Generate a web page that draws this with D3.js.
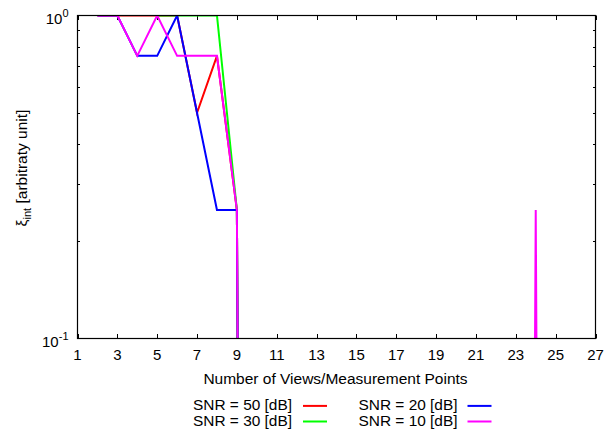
<!DOCTYPE html>
<html>
<head>
<meta charset="utf-8">
<script src="https://cdn.jsdelivr.net/npm/d3@7"></script>
<style>
  html, body { margin: 0; padding: 0; background: #fff; }
  svg { display: block; }
  text { font-family: "Liberation Sans", Arial, Helvetica, sans-serif; fill: #000; }
</style>
</head>
<body>
<svg id="chart" width="605" height="437"></svg>
<script>
// Number of views / measurement points (x positions of each sample)
const views = [2, 3, 4, 5, 6, 7, 8, 9, 10, 11, 12, 13, 14, 15, 16, 17, 18, 19, 20, 21, 22, 23, 24, 25, 26, 27];

// Normalised xi_int per SNR level (null = no sample, 0 = vanished)
const snr50 = [1, 1, 1, 1, 1, 0.5, 0.75, 0.25, 0, 0, 0, 0, 0, 0, 0, 0, 0, 0, 0, 0, 0, 0, 0, 0, 0, 0];
const snr30 = [null, null, null, 1, 1, 1, 1, 0.25, 0, 0, 0, 0, 0, 0, 0, 0, 0, 0, 0, 0, 0, 0, 0, 0, 0, 0];
const snr20 = [1, 1, 0.75, 0.75, 1, 0.5, 0.25, 0.25, 0, 0, 0, 0, 0, 0, 0, 0, 0, 0, 0, 0, 0, 0, 0, 0, 0, 0];
const snr10 = [1, 1, 0.75, 1, 0.75, 0.75, 0.75, 0.25, 0, 0, 0, 0, 0, 0, 0, 0, 0, 0, 0, 0, 0, 0, 0.25, 0, 0, 0];

const seriesNames = ["SNR = 50 [dB]", "SNR = 30 [dB]", "SNR = 20 [dB]", "SNR = 10 [dB]"];
const seriesColors = ["#ff0000", "#00ff00", "#0000ff", "#ff00ff"];
const seriesValues = [snr50, snr30, snr20, snr10];

const xTickValues = [1, 3, 5, 7, 9, 11, 13, 15, 17, 19, 21, 23, 25, 27];
const yMinorTicks = [0.2, 0.3, 0.4, 0.5, 0.6, 0.7, 0.8, 0.9];
const yMajorTicks = [{ v: 0.1, exp: "-1" }, { v: 1, exp: "0" }];

const xLabel = "Number of Views/Measurement Points";

const svg = d3.select("#chart");
const plot = { left: 77.5, right: 595.5, top: 15.5, bottom: 338.5 };

const x = d3.scaleLinear().domain([1, 27]).range([plot.left, plot.right]);
const y = d3.scaleLog().domain([0.1, 1]).range([plot.bottom, plot.top]);

// clip region for the data lines
svg.append("clipPath").attr("id", "plotClip")
  .append("rect")
  .attr("x", plot.left).attr("y", plot.top)
  .attr("width", plot.right - plot.left).attr("height", plot.bottom - plot.top);

// ticks (inward, mirrored on opposite side)
const tickG = svg.append("g").attr("stroke", "#000").attr("stroke-width", 1);
const major = 4.5, minor = 2.5;
xTickValues.forEach(v => {
  const px = Math.round(x(v)) + 0.5;
  tickG.append("line").attr("x1", px).attr("x2", px).attr("y1", plot.bottom).attr("y2", plot.bottom - major);
  tickG.append("line").attr("x1", px).attr("x2", px).attr("y1", plot.top).attr("y2", plot.top + major);
});
yMinorTicks.forEach(v => {
  const py = Math.round(y(v)) + 0.5;
  tickG.append("line").attr("x1", plot.left).attr("x2", plot.left + minor).attr("y1", py).attr("y2", py);
  tickG.append("line").attr("x1", plot.right).attr("x2", plot.right - minor).attr("y1", py).attr("y2", py);
});

// data lines, zero values plunge straight out of the log range
const floorVal = 1e-12;
const line = d3.line()
  .defined(d => d.v !== null)
  .x(d => x(d.x))
  .y(d => y(d.v > 0 ? d.v : floorVal));

const linesG = svg.append("g").attr("clip-path", "url(#plotClip)");
seriesValues.forEach((vals, i) => {
  const pts = views.map((vx, j) => ({ x: vx, v: vals[j] }));
  linesG.append("path")
    .datum(pts)
    .attr("d", line)
    .attr("fill", "none")
    .attr("stroke", seriesColors[i])
    .attr("stroke-width", 2)
    .attr("stroke-linejoin", "miter");
});

// border
svg.append("rect")
  .attr("x", plot.left).attr("y", plot.top)
  .attr("width", plot.right - plot.left).attr("height", plot.bottom - plot.top)
  .attr("fill", "none").attr("stroke", "#000").attr("stroke-width", 1.2);

// x tick labels
svg.append("g").selectAll("text").data(xTickValues).join("text")
  .attr("x", d => x(d))
  .attr("y", 359.5)
  .attr("text-anchor", "middle")
  .attr("font-size", 15)
  .text(d => d);

// y tick labels as powers of ten
yMajorTicks.forEach(t => {
  const tx = svg.append("text")
    .attr("x", 68.5)
    .attr("y", y(t.v) + 8)
    .attr("text-anchor", "end")
    .attr("font-size", 15);
  tx.append("tspan").text("10");
  tx.append("tspan").attr("font-size", 11).attr("dy", -7).text(t.exp);
});

// x axis title
svg.append("text")
  .attr("x", (plot.left + plot.right) / 2 - 1)
  .attr("y", 383.5)
  .attr("text-anchor", "middle")
  .attr("font-size", 15.5)
  .text(xLabel);

// y axis title: xi with subscript
const yl = svg.append("text")
  .attr("transform", "translate(27,168) rotate(-90)")
  .attr("text-anchor", "middle")
  .attr("font-size", 15.5);
yl.append("tspan").text("\u03be");
yl.append("tspan").attr("font-size", 11).attr("dy", 4).text("int");
yl.append("tspan").attr("dy", -4).text(" [arbitraty unit]");

// legend: two columns of right-aligned labels followed by line samples
const legendCols = [{ textEnd: 292, x1: 303, x2: 327, series: [0, 1] },
                    { textEnd: 457.5, x1: 467.5, x2: 491.5, series: [2, 3] }];
const legendTop = 410.4, legendStep = 15.6, legendTextWidth = 99;
legendCols.forEach(col => {
  col.series.forEach((s, r) => {
    const base = legendTop + r * legendStep;
    svg.append("text")
      .attr("x", col.textEnd - legendTextWidth)
      .attr("y", base)
      .attr("font-size", 14)
      .attr("textLength", legendTextWidth)
      .attr("lengthAdjust", "spacingAndGlyphs")
      .text(seriesNames[s]);
    svg.append("line")
      .attr("x1", col.x1).attr("x2", col.x2)
      .attr("y1", base - 4.5).attr("y2", base - 4.5)
      .attr("stroke", seriesColors[s]).attr("stroke-width", 2);
  });
});
</script>
</body>
</html>
